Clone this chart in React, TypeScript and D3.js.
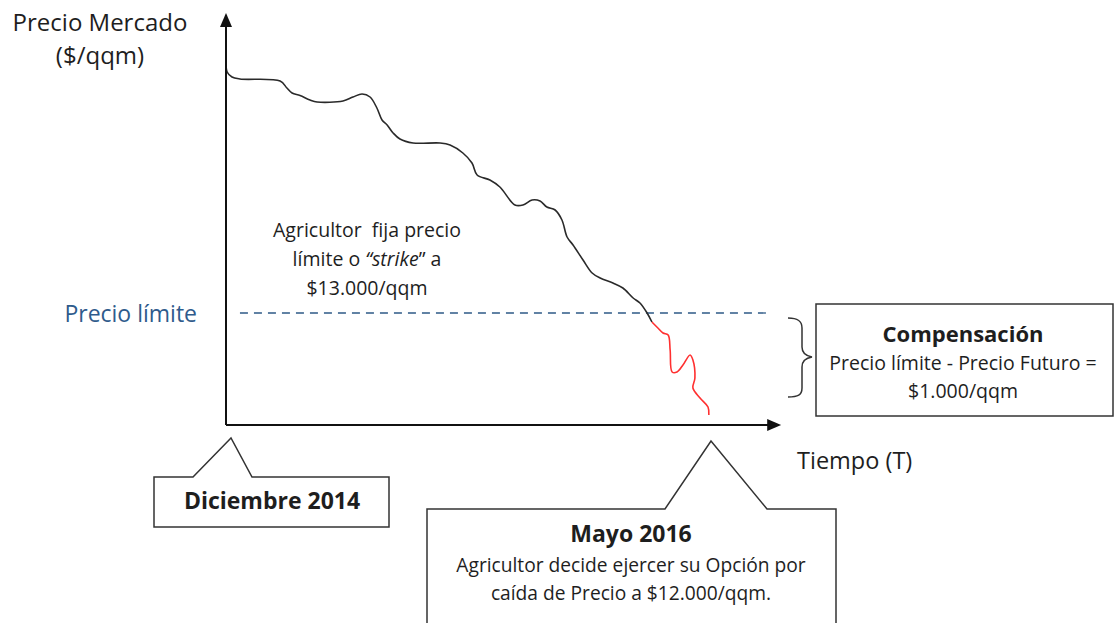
import React from "react";
import * as d3 from "d3";

// Time in months since Dec 2014, price in $/qqm
const blackMonths = [0, 0.04, 0.21, 0.49, 1.9, 2.14, 2.32, 2.6, 2.95, 3.2, 4.11, 4.46, 4.78, 5.06, 5.3, 5.48, 5.66, 5.87, 6.11, 6.57, 7.52, 7.87, 8.32, 8.64, 8.82, 9.27, 9.62, 10.15, 10.43, 10.75, 11.03, 11.27, 11.56, 11.8, 11.98, 12.19, 12.54, 12.86, 13.14, 13.59, 13.94, 14.3, 14.54, 14.79, 14.96];
const blackPrices = [15530, 15410, 15360, 15340, 15320, 15250, 15200, 15175, 15130, 15110, 15120, 15160, 15190, 15160, 15050, 14930, 14880, 14800, 14740, 14700, 14700, 14680, 14600, 14500, 14380, 14330, 14260, 14080, 14080, 14130, 14120, 14060, 14030, 13930, 13760, 13680, 13530, 13400, 13350, 13300, 13250, 13150, 13100, 13000, 12910];
const redMonths = [14.96, 15.17, 15.35, 15.53, 15.6, 15.67, 15.84, 16.05, 16.3, 16.4, 16.47, 16.4, 16.65, 16.93, 16.96];
const redPrices = [12910, 12850, 12800, 12780, 12630, 12410, 12410, 12480, 12580, 12530, 12350, 12250, 12150, 12060, 11980];

const strikePrice = 13000;
const exercisePrice = 12000;
const timeDomain = [0, 17];
const axisTimeEnd = 19.5;
const axisPriceBottom = 11880;
const axisPriceTop = 16000;
const strikeStart = 0.49;
const strikeEnd = 19.0;

const FONT = "'Open Sans', sans-serif";
const TXT = "#1e1e1e";

export default function App() {
  const x = d3.scaleLinear().domain(timeDomain).range([226, 710]);
  const y = d3.scaleLinear().domain([exercisePrice, strikePrice]).range([413, 313]);

  const line = d3
    .line<[number, number]>()
    .x((d) => x(d[0]))
    .y((d) => y(d[1]))
    .curve(d3.curveCatmullRom.alpha(0.5));

  const black = blackMonths.map((m, i) => [m, blackPrices[i]] as [number, number]);
  const red = redMonths.map((m, i) => [m, redPrices[i]] as [number, number]);

  const x0 = x(0);
  const yBase = y(axisPriceBottom);
  const xEnd = x(axisTimeEnd);
  const yTop = y(axisPriceTop);

  return (
    <svg
      width={1115}
      height={623}
      style={{ position: "absolute", left: 0, top: 0, background: "#fff" }}
      fontFamily={FONT}
    >
      <rect width={1115} height={623} fill="#fff" />
      {/* axis labels */}
      <text x={100} y={31} textAnchor="middle" fontSize={24} fill={TXT}>
        Precio Mercado
      </text>
      <text x={100} y={64} textAnchor="middle" fontSize={24} fill={TXT}>
        ($/qqm)
      </text>
      <text x={197} y={322} textAnchor="end" fontSize={23} fill="#2f5b8c">
        Precio límite
      </text>
      <text x={797} y={469} fontSize={23.5} fill={TXT}>
        Tiempo (T)
      </text>

      {/* strike line */}
      <line
        x1={x(strikeStart)}
        x2={x(strikeEnd)}
        y1={y(strikePrice)}
        y2={y(strikePrice)}
        stroke="#2e5a87"
        strokeWidth={1.3}
        strokeDasharray="8,6"
      />

      {/* price path */}
      <path d={line(black) || ""} fill="none" stroke="#2a2a2a" strokeWidth={1.6} />
      <path d={line(red) || ""} fill="none" stroke="#ff3030" strokeWidth={1.6} />

      {/* axes */}
      <line x1={x0} y1={yBase} x2={x0} y2={yTop + 12} stroke="#111" strokeWidth={2} />
      <polygon points={`${x0},${yTop} ${x0 - 6},${yTop + 14} ${x0 + 6},${yTop + 14}`} fill="#111" />
      <line x1={x0} y1={yBase} x2={xEnd - 12} y2={yBase} stroke="#111" strokeWidth={2} />
      <polygon points={`${xEnd},${yBase} ${xEnd - 14},${yBase - 6} ${xEnd - 14},${yBase + 6}`} fill="#111" />

      {/* annotation */}
      <text textAnchor="middle" fontSize={19.5} fill={TXT} style={{ whiteSpace: "pre" }}>
        <tspan x={367} y={237}>{"Agricultor  fija precio"}</tspan>
        <tspan x={367} y={266}>
          límite o <tspan fontStyle="italic">“strike</tspan>” a
        </tspan>
        <tspan x={367} y={295}>$13.000/qqm</tspan>
      </text>

      {/* brace */}
      <path
        d="M788,318 C798,318 802,321 802,328 L802,347 C802,353 806,356 812,357 C806,358 802,361 802,367 L802,388 C802,395 798,397 788,397"
        fill="none"
        stroke="#333"
        strokeWidth={1.5}
      />

      {/* Compensación box */}
      <rect x={816} y={304} width={297} height={112} fill="#fff" stroke="#333" strokeWidth={1.5} />
      <text x={963} y={342} textAnchor="middle" fontSize={22} fontWeight="bold" fill={TXT}>
        Compensación
      </text>
      <text x={963} y={370} textAnchor="middle" fontSize={19.5} fill={TXT}>
        Precio límite - Precio Futuro =
      </text>
      <text x={963} y={398} textAnchor="middle" fontSize={19.5} fill={TXT}>
        $1.000/qqm
      </text>

      {/* Diciembre callout */}
      <path
        d="M154,477 L193,477 L231,438 L252,477 L389,477 L389,527 L154,527 Z"
        fill="#fff"
        stroke="#333"
        strokeWidth={1.5}
      />
      <text x={272} y={509} textAnchor="middle" fontSize={23} fontWeight="bold" fill={TXT}>
        Diciembre 2014
      </text>

      {/* Mayo callout */}
      <path
        d="M427,640 L427,509 L665,509 L711,441 L767,509 L836,509 L836,640"
        fill="#fff"
        stroke="#333"
        strokeWidth={1.5}
      />
      <text x={631} y={542} textAnchor="middle" fontSize={23} fontWeight="bold" fill={TXT}>
        Mayo 2016
      </text>
      <text x={631} y={572} textAnchor="middle" fontSize={19.2} fill={TXT}>
        Agricultor decide ejercer su Opción por
      </text>
      <text x={631} y={600} textAnchor="middle" fontSize={19.2} fill={TXT}>
        caída de Precio a $12.000/qqm.
      </text>
    </svg>
  );
}
